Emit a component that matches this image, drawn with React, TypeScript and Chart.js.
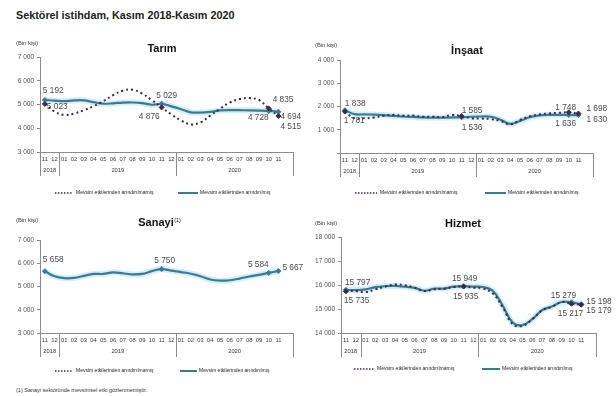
import { useEffect, useRef } from 'react';
import { Chart, registerables } from 'chart.js';
Chart.register(...registerables);

const FONT = "'Liberation Sans', Arial, sans-serif";
const SOLID = '#3b7a96';
const HALO = '#d2eff7';
const DOT = '#3f2a4c';
const AXIS = '#8c8c8c';
const TEXT = '#3a3a3a';

const months = ['11', '12', '01', '02', '03', '04', '05', '06', '07', '08', '09', '10', '11', '12', '01', '02', '03', '04', '05', '06', '07', '08', '09', '10', '11'];
const yearLabels = ['2018', '2019', '2020'];
const yearSizes = [2, 12, 12];
const categories = [...months, ''];

const tarimSA = [5192, 5160, 5140, 5170, 5175, 5100, 5035, 5050, 5080, 5085, 5060, 4990, 5029, 4920, 4800, 4670, 4660, 4690, 4750, 4765, 4760, 4755, 4745, 4728, 4694];
const tarimNSA = [5023, 4700, 4560, 4620, 4760, 4930, 5140, 5390, 5580, 5620, 5460, 5180, 4876, 4580, 4330, 4160, 4250, 4530, 4820, 5080, 5230, 5270, 5190, 4835, 4515];

const insaatSA = [1838, 1670, 1660, 1650, 1630, 1600, 1570, 1550, 1530, 1520, 1520, 1530, 1536, 1560, 1570, 1560, 1430, 1250, 1380, 1540, 1620, 1640, 1640, 1636, 1630];
const insaatNSA = [1781, 1490, 1490, 1530, 1600, 1640, 1600, 1610, 1560, 1560, 1540, 1630, 1585, 1490, 1480, 1460, 1380, 1230, 1420, 1580, 1660, 1700, 1730, 1748, 1698];

const sanayiSA = [5658, 5440, 5360, 5370, 5460, 5540, 5540, 5610, 5570, 5520, 5540, 5660, 5750, 5680, 5620, 5550, 5440, 5300, 5250, 5270, 5340, 5430, 5500, 5584, 5667];

const hizmetSA = [15797, 15790, 15820, 15910, 15950, 15960, 15930, 15880, 15760, 15850, 15850, 15930, 15949, 15930, 15915, 15750, 15130, 14440, 14330, 14580, 14950, 15100, 15290, 15279, 15198];
const hizmetNSA = [15735, 15750, 15700, 15820, 15930, 16020, 15990, 15890, 15750, 15820, 15840, 15920, 15935, 15890, 15850, 15640, 15060, 14370, 14300, 14570, 14940, 15090, 15290, 15217, 15179];

const markIdx = [0, 12, 23, 24];
const legendNSA = 'Mevsim etkilerinden arındırılmamış';
const legendSA = 'Mevsim etkilerinden arındırılmış';

const fmt = (n: number) => String(n).replace(/\B(?=(\d{3})+(?!\d))/g, ' ');

type LabelSpec = { s: 'sa' | 'nsa'; i: number; align: CanvasTextAlign; dx: number; dy: number };

interface Panel {
  key: string;
  title: string;
  sup?: string;
  box: { left: number; top: number; width: number; height: number };
  area: { left: number; top: number; right: number; bottom: number };
  yMin: number;
  yMax: number;
  step: number;
  hideMin?: boolean;
  sa: number[];
  nsa?: number[];
  labels: LabelSpec[];
  titlePos: { x: number; y: number };
  unitPos: { x: number; y: number };
  legend: { y: number; d0: number; d1: number; dt: number; s0: number; s1: number; st: number };
}

const panels: Panel[] = [
  {
    key: 'tarim', title: 'Tarım',
    box: { left: 0, top: 30, width: 310, height: 175 },
    area: { left: 40, top: 57, right: 293, bottom: 152 },
    yMin: 3000, yMax: 7000, step: 1000,
    sa: tarimSA, nsa: tarimNSA,
    labels: [
      { s: 'sa', i: 0, align: 'left', dx: -2, dy: -9 },
      { s: 'nsa', i: 0, align: 'left', dx: 2, dy: 3 },
      { s: 'sa', i: 12, align: 'center', dx: 5, dy: -8 },
      { s: 'nsa', i: 12, align: 'right', dx: -2, dy: 9 },
      { s: 'nsa', i: 23, align: 'left', dx: 4, dy: -9 },
      { s: 'sa', i: 23, align: 'right', dx: 0, dy: 7 },
      { s: 'sa', i: 24, align: 'left', dx: 2, dy: 5 },
      { s: 'nsa', i: 24, align: 'left', dx: 2, dy: 11 },
    ],
    titlePos: { x: 162, y: 49 }, unitPos: { x: 16, y: 43 },
    legend: { y: 193, d0: 55, d1: 73, dt: 76, s0: 178, s1: 198, st: 200 },
  },
  {
    key: 'insaat', title: 'İnşaat',
    box: { left: 300, top: 30, width: 316, height: 175 },
    area: { left: 340, top: 60, right: 593, bottom: 153 },
    yMin: 0, yMax: 4000, step: 1000, hideMin: true,
    sa: insaatSA, nsa: insaatNSA,
    labels: [
      { s: 'sa', i: 0, align: 'left', dx: 0, dy: -7 },
      { s: 'nsa', i: 0, align: 'left', dx: -1, dy: 9 },
      { s: 'nsa', i: 12, align: 'left', dx: 0, dy: -5 },
      { s: 'sa', i: 12, align: 'left', dx: 0, dy: 10 },
      { s: 'nsa', i: 23, align: 'center', dx: -3, dy: -5 },
      { s: 'sa', i: 23, align: 'center', dx: -3, dy: 9 },
      { s: 'nsa', i: 24, align: 'left', dx: 8, dy: -5 },
      { s: 'sa', i: 24, align: 'left', dx: 8, dy: 5 },
    ],
    titlePos: { x: 467, y: 51 }, unitPos: { x: 315, y: 45 },
    legend: { y: 193, d0: 355, d1: 377, dt: 380, s0: 485, s1: 506, st: 508 },
  },
  {
    key: 'sanayi', title: 'Sanayi', sup: '(1)',
    box: { left: 0, top: 205, width: 310, height: 180 },
    area: { left: 40, top: 240, right: 293, bottom: 333 },
    yMin: 3000, yMax: 7000, step: 1000,
    sa: sanayiSA,
    labels: [
      { s: 'sa', i: 0, align: 'left', dx: -2, dy: -11 },
      { s: 'sa', i: 12, align: 'center', dx: 3, dy: -8 },
      { s: 'sa', i: 23, align: 'right', dx: 0, dy: -8 },
      { s: 'sa', i: 24, align: 'left', dx: 4, dy: -3 },
    ],
    titlePos: { x: 156, y: 223 }, unitPos: { x: 16, y: 220 },
    legend: { y: 371, d0: 55, d1: 73, dt: 76, s0: 180, s1: 197, st: 199 },
  },
  {
    key: 'hizmet', title: 'Hizmet',
    box: { left: 300, top: 205, width: 316, height: 180 },
    area: { left: 341, top: 237, right: 596, bottom: 333 },
    yMin: 14000, yMax: 18000, step: 1000,
    sa: hizmetSA, nsa: hizmetNSA,
    labels: [
      { s: 'sa', i: 0, align: 'left', dx: -1, dy: -7 },
      { s: 'nsa', i: 0, align: 'left', dx: -2, dy: 9 },
      { s: 'sa', i: 12, align: 'center', dx: 1, dy: -8 },
      { s: 'nsa', i: 12, align: 'center', dx: 2, dy: 10 },
      { s: 'sa', i: 23, align: 'center', dx: -8, dy: -7 },
      { s: 'nsa', i: 23, align: 'center', dx: -1, dy: 10 },
      { s: 'sa', i: 24, align: 'left', dx: 5, dy: -3 },
      { s: 'nsa', i: 24, align: 'left', dx: 5, dy: 6 },
    ],
    titlePos: { x: 463, y: 224 }, unitPos: { x: 315, y: 223 },
    legend: { y: 369, d0: 354, d1: 374, dt: 377, s0: 482, s1: 500, st: 502 },
  },
];

function decorPlugin(p: Panel) {
  return {
    id: 'decor_' + p.key,
    afterDraw(chart: any) {
      const ctx: CanvasRenderingContext2D = chart.ctx;
      const ox = p.box.left;
      const oy = p.box.top;
      const { left, right, bottom } = chart.chartArea;
      const xs = chart.scales.x;
      const ys = chart.scales.y;
      ctx.save();
      ctx.strokeStyle = AXIS;
      ctx.lineWidth = 1;
      ctx.beginPath();
      ctx.moveTo(left, Math.round(bottom) + 0.5);
      ctx.lineTo(right, Math.round(bottom) + 0.5);
      ctx.stroke();
      const cw = (right - left) / categories.length;
      const seps = [0];
      let acc = 0;
      yearSizes.forEach((n) => { acc += n; seps.push(acc); });
      seps.forEach((k) => {
        const x = Math.round(left + k * cw) + 0.5;
        ctx.beginPath();
        ctx.moveTo(x, bottom);
        ctx.lineTo(x, bottom + 24);
        ctx.stroke();
      });
      ctx.fillStyle = TEXT;
      ctx.textAlign = 'center';
      ctx.textBaseline = 'middle';
      ctx.font = `5.8px ${FONT}`;
      months.forEach((m, i) => ctx.fillText(m, xs.getPixelForValue(i), bottom + 7));
      acc = 0;
      yearLabels.forEach((y, k) => {
        const x = left + (acc + yearSizes[k] / 2) * cw;
        ctx.fillText(y, x, bottom + 18);
        acc += yearSizes[k];
      });
      ctx.fillStyle = '#111';
      ctx.font = `bold 11px ${FONT}`;
      ctx.textAlign = 'center';
      const tx = p.titlePos.x - ox;
      const ty = p.titlePos.y - oy;
      ctx.fillText(p.title, tx, ty);
      if (p.sup) {
        const w = ctx.measureText(p.title).width;
        ctx.font = `5.5px ${FONT}`;
        ctx.textAlign = 'left';
        ctx.fillText(p.sup, tx + w / 2 + 0.5, ty - 3);
      }
      ctx.fillStyle = TEXT;
      ctx.font = `5.8px ${FONT}`;
      ctx.textAlign = 'left';
      ctx.fillText('(Bin kişi)', p.unitPos.x - ox, p.unitPos.y - oy);
      const lg = p.legend;
      const ly = lg.y - oy;
      ctx.strokeStyle = DOT;
      ctx.lineWidth = 1.5;
      ctx.setLineDash([1.5, 1.5]);
      ctx.beginPath();
      ctx.moveTo(lg.d0 - ox, ly);
      ctx.lineTo(lg.d1 - ox, ly);
      ctx.stroke();
      ctx.setLineDash([]);
      ctx.strokeStyle = SOLID;
      ctx.lineWidth = 2;
      ctx.beginPath();
      ctx.moveTo(lg.s0 - ox, ly);
      ctx.lineTo(lg.s1 - ox, ly);
      ctx.stroke();
      ctx.fillStyle = '#222';
      ctx.font = `5px ${FONT}`;
      ctx.fillText(legendNSA, lg.dt - ox, ly);
      ctx.fillText(legendSA, lg.st - ox, ly);
      ctx.fillStyle = '#4a4a4a';
      ctx.font = `8.3px ${FONT}`;
      p.labels.forEach((l) => {
        const arr = l.s === 'sa' ? p.sa : p.nsa;
        if (!arr) return;
        const v = arr[l.i];
        const x = xs.getPixelForValue(l.i);
        const y = ys.getPixelForValue(v);
        ctx.textAlign = l.align;
        ctx.fillText(fmt(v), x + l.dx, y + l.dy);
      });
      ctx.restore();
    },
  };
}

function PanelChart({ p }: { p: Panel }) {
  const ref = useRef<HTMLCanvasElement>(null);
  useEffect(() => {
    const c = ref.current;
    if (!c) return;
    const markRadius = (ctx: any) => (markIdx.includes(ctx.dataIndex) ? 2.5 : 0);
    const datasets: any[] = [
      { label: 'halo', data: p.sa, borderColor: HALO, borderWidth: 6, pointRadius: 0, tension: 0.4, order: 3 },
      {
        label: legendSA, data: p.sa, borderColor: SOLID, backgroundColor: SOLID, borderWidth: 2.2,
        tension: 0.4, pointStyle: 'rectRot', pointRadius: markRadius, pointBorderWidth: 1, order: 2,
      },
    ];
    if (p.nsa) {
      datasets.push({
        label: legendNSA, data: p.nsa, borderColor: DOT, backgroundColor: DOT, borderWidth: 2,
        borderDash: [2, 3], tension: 0.4, pointStyle: 'rectRot', pointRadius: markRadius, pointBorderWidth: 1, order: 1,
      });
    }
    const chart = new Chart(c, {
      type: 'line',
      data: { labels: categories, datasets },
      options: {
        responsive: false,
        animation: false,
        devicePixelRatio: 1,
        layout: {
          padding: {
            left: 0,
            top: p.area.top - p.box.top,
            right: p.box.left + p.box.width - p.area.right,
            bottom: p.box.top + p.box.height - p.area.bottom,
          },
        },
        plugins: { legend: { display: false }, tooltip: { enabled: false } },
        scales: {
          x: { type: 'category', offset: true, display: false },
          y: {
            min: p.yMin,
            max: p.yMax,
            afterFit: (s: any) => { s.width = p.area.left - p.box.left; },
            ticks: {
              stepSize: p.step,
              font: { family: FONT, size: 6.5 },
              color: '#555',
              padding: 3,
              callback: (v: any) => (p.hideMin && Number(v) === p.yMin ? '' : fmt(Number(v))),
            },
            grid: { drawOnChartArea: false, drawTicks: true, tickLength: 3, color: AXIS },
            border: { color: AXIS, width: 1 },
          },
        },
      } as any,
      plugins: [decorPlugin(p)],
    });
    return () => chart.destroy();
  }, []);
  return (
    <canvas
      ref={ref}
      width={p.box.width}
      height={p.box.height}
      style={{ position: 'absolute', left: p.box.left, top: p.box.top, width: p.box.width, height: p.box.height }}
    />
  );
}

export default function App() {
  return (
    <div style={{ position: 'absolute', left: 0, top: 0, width: 616, height: 396, background: '#fff', overflow: 'hidden', fontFamily: FONT }}>
      <div style={{ position: 'absolute', left: 16, top: 8, fontSize: 10.8, fontWeight: 'bold', color: '#222', lineHeight: '14px', whiteSpace: 'nowrap' }}>
        Sektörel istihdam, Kasım 2018-Kasım 2020
      </div>
      {panels.map((p) => (
        <PanelChart key={p.key} p={p} />
      ))}
      <div style={{ position: 'absolute', left: 16, top: 386, fontSize: 5.5, color: '#333', lineHeight: '8px', whiteSpace: 'nowrap' }}>
        (1) Sanayi sektöründe mevsimsel etki gözlenmemiştir.
      </div>
    </div>
  );
}
